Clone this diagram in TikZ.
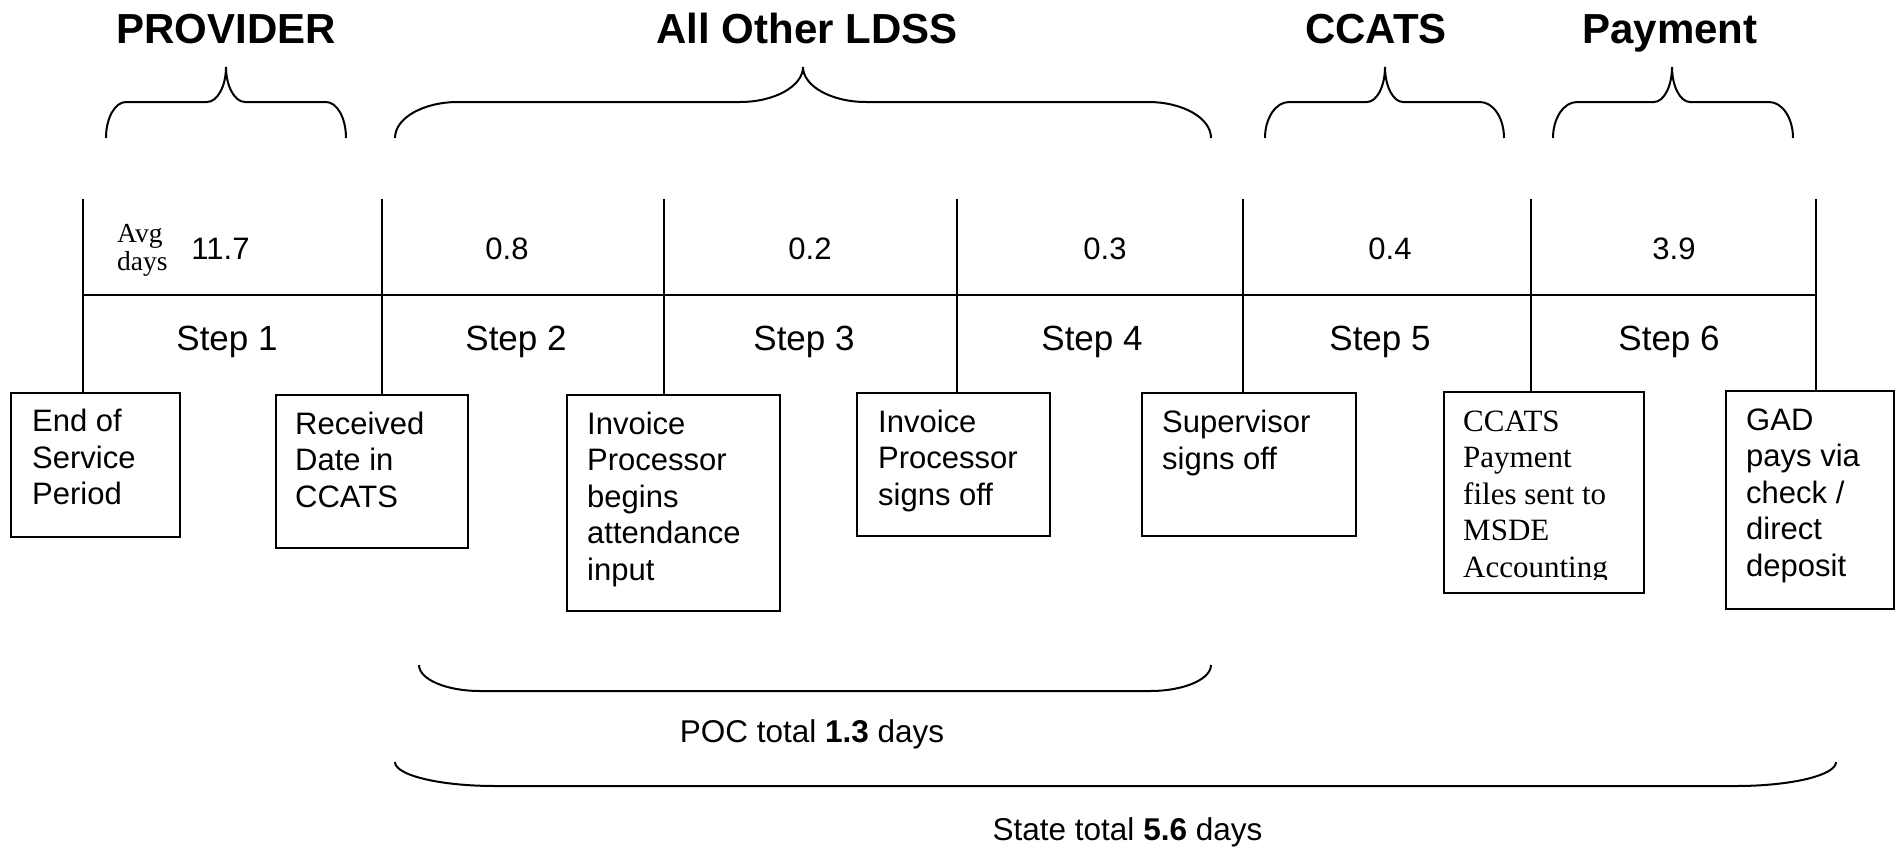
\documentclass[tikz,border=0pt]{standalone}
\usepackage{fontspec}
\setmainfont{Liberation Sans}
\newfontfamily\timesfont{Liberation Serif}
\newcommand\topbrace[5]{% L T R corner tip
  \draw[brc] (#1,138) .. controls (#1,118) and ({#1+0.448*#4},102) .. ({#1+#4},102)
    -- ({#2-#5},102) .. controls ({#2-0.448*#5},102) and (#2,86) .. (#2,67)
    .. controls (#2,86) and ({#2+0.448*#5},102) .. ({#2+#5},102)
    -- ({#3-#4},102) .. controls ({#3-0.448*#4},102) and (#3,118) .. (#3,138);}
\newcommand\botbrace[5]{% L R corner ytop ybot
  \draw[brc] (#1,#4) .. controls (#1,{#4+0.552*(#5-#4)}) and ({#1+0.448*#3},#5) .. ({#1+#3},#5)
    -- ({#2-#3},#5) .. controls ({#2-0.448*#3},#5) and (#2,{#4+0.552*(#5-#4)}) .. (#2,#4);}
\begin{document}
\begin{tikzpicture}[x=1pt,y=-1pt,
  conn/.style={line width=2pt},
  brc/.style={line width=2pt},
  stepbox/.style={draw, line width=2.4pt, inner sep=0pt, anchor=north west},
  boxtxt/.style={inner sep=0pt, anchor=north west, align=left, font=\fontsize{31}{36.5}\selectfont},
  sertxt/.style={inner sep=0pt, anchor=north west, align=left, font=\timesfont\fontsize{31}{36.5}\selectfont},
  head/.style={inner sep=0pt, anchor=base, font=\fontsize{42}{50}\selectfont\bfseries},
  num/.style={inner sep=0pt, anchor=base, font=\fontsize{31}{36}\selectfont},
  steplbl/.style={inner sep=0pt, anchor=base, font=\fontsize{35}{42}\selectfont},
  avg/.style={inner sep=0pt, anchor=north west, align=left, font=\timesfont\fontsize{27.5}{28.5}\selectfont},
  total/.style={inner sep=0pt, anchor=base, font=\fontsize{31.5}{38}\selectfont}]
\useasboundingbox (0,0) rectangle (1898,849);

% headers
\node[head] (hprov) at (226,43) {PROVIDER};
\node[head] (hldss) at (807,43) {All Other LDSS};
\node[head] (hccats) at (1376,43) {CCATS};
\node[head] (hpay) at (1670,43) {Payment};

% top braces
\topbrace{106}{226}{346}{20}{19}
\topbrace{395}{803}{1211}{63}{63}
\topbrace{1265}{1385}{1504}{24}{18}
\topbrace{1553}{1672}{1793}{24}{18}

% boxes
\node[stepbox, minimum width=169pt, minimum height=144pt] (b1) at (10,392) {};
\node[stepbox, minimum width=192pt, minimum height=153pt] (b2) at (275,394) {};
\node[stepbox, minimum width=213pt, minimum height=216pt] (b3) at (566,394) {};
\node[stepbox, minimum width=193pt, minimum height=143pt] (b4) at (856,392) {};
\node[stepbox, minimum width=214pt, minimum height=143pt] (b5) at (1141,392) {};
\node[stepbox, minimum width=200pt, minimum height=201pt] (b6) at (1443,391) {};
\node[stepbox, minimum width=168pt, minimum height=218pt] (b7) at (1725,390) {};

% timeline
\coordinate (t1) at (82.7,199);
\coordinate (t2) at (382,199);
\coordinate (t3) at (664,199);
\coordinate (t4) at (957,199);
\coordinate (t5) at (1243,199);
\coordinate (t6) at (1531,199);
\coordinate (t7) at (1815.5,199);
\coordinate (hl) at (0,295);
\draw[conn] (t1) -- (t1 |- b1.north);
\draw[conn] (t2) -- (t2 |- b2.north);
\draw[conn] (t3) -- (t3 |- b3.north);
\draw[conn] (t4) -- (t4 |- b4.north);
\draw[conn] (t5) -- (t5 |- b5.north);
\draw[conn] (t6) -- (t6 |- b6.north);
\draw[conn] (t7) -- (t7 |- b7.north);
\draw[conn] (t1 |- hl) -- (t7 |- hl);

% averages
\node[avg] (avg) at (117,222) {\strut Avg\\days};
\node[num] (n1) at (220.5,259) {11.7};
\node[num] (n2) at (507,259) {0.8};
\node[num] (n3) at (810,259) {0.2};
\node[num] (n4) at (1105,259) {0.3};
\node[num] (n5) at (1390,259) {0.4};
\node[num] (n6) at (1674,259) {3.9};

% steps
\node[steplbl] (s1) at (227,350) {Step 1};
\node[steplbl] (s2) at (516,350) {Step 2};
\node[steplbl] (s3) at (804,350) {Step 3};
\node[steplbl] (s4) at (1092,350) {Step 4};
\node[steplbl] (s5) at (1380,350) {Step 5};
\node[steplbl] (s6) at (1669,350) {Step 6};

% box texts
\node[boxtxt] (x1) at (32,406) {\strut End of\\Service\\Period};
\node[boxtxt] (x2) at (295,408.5) {\strut Received\\Date in\\CCATS};
\node[boxtxt] (x3) at (587,408.5) {\strut Invoice\\Processor\\begins\\attendance\\input};
\node[boxtxt] (x4) at (878,406.5) {\strut Invoice\\Processor\\signs off};
\node[boxtxt] (x5) at (1162,407) {\strut Supervisor\\signs off};
\begin{scope}
  \clip (1444,392) rectangle (1642,579.5);
  \node[sertxt] (x6) at (1463,405.5) {\strut CCATS\\Payment\\files sent to\\MSDE\\Accounting};
\end{scope}
\node[boxtxt] (x7) at (1746,404.5) {\strut GAD\\pays via\\check /\\direct\\deposit};

% bottom braces
\botbrace{419}{1211}{61}{665}{691}
\node[total] (poc) at (812,742) {POC total \textbf{1.3} days};
\botbrace{395}{1836}{100}{762}{786}
\node[total] (state) at (1127.5,840) {State total \textbf{5.6} days};
\end{tikzpicture}
\end{document}
